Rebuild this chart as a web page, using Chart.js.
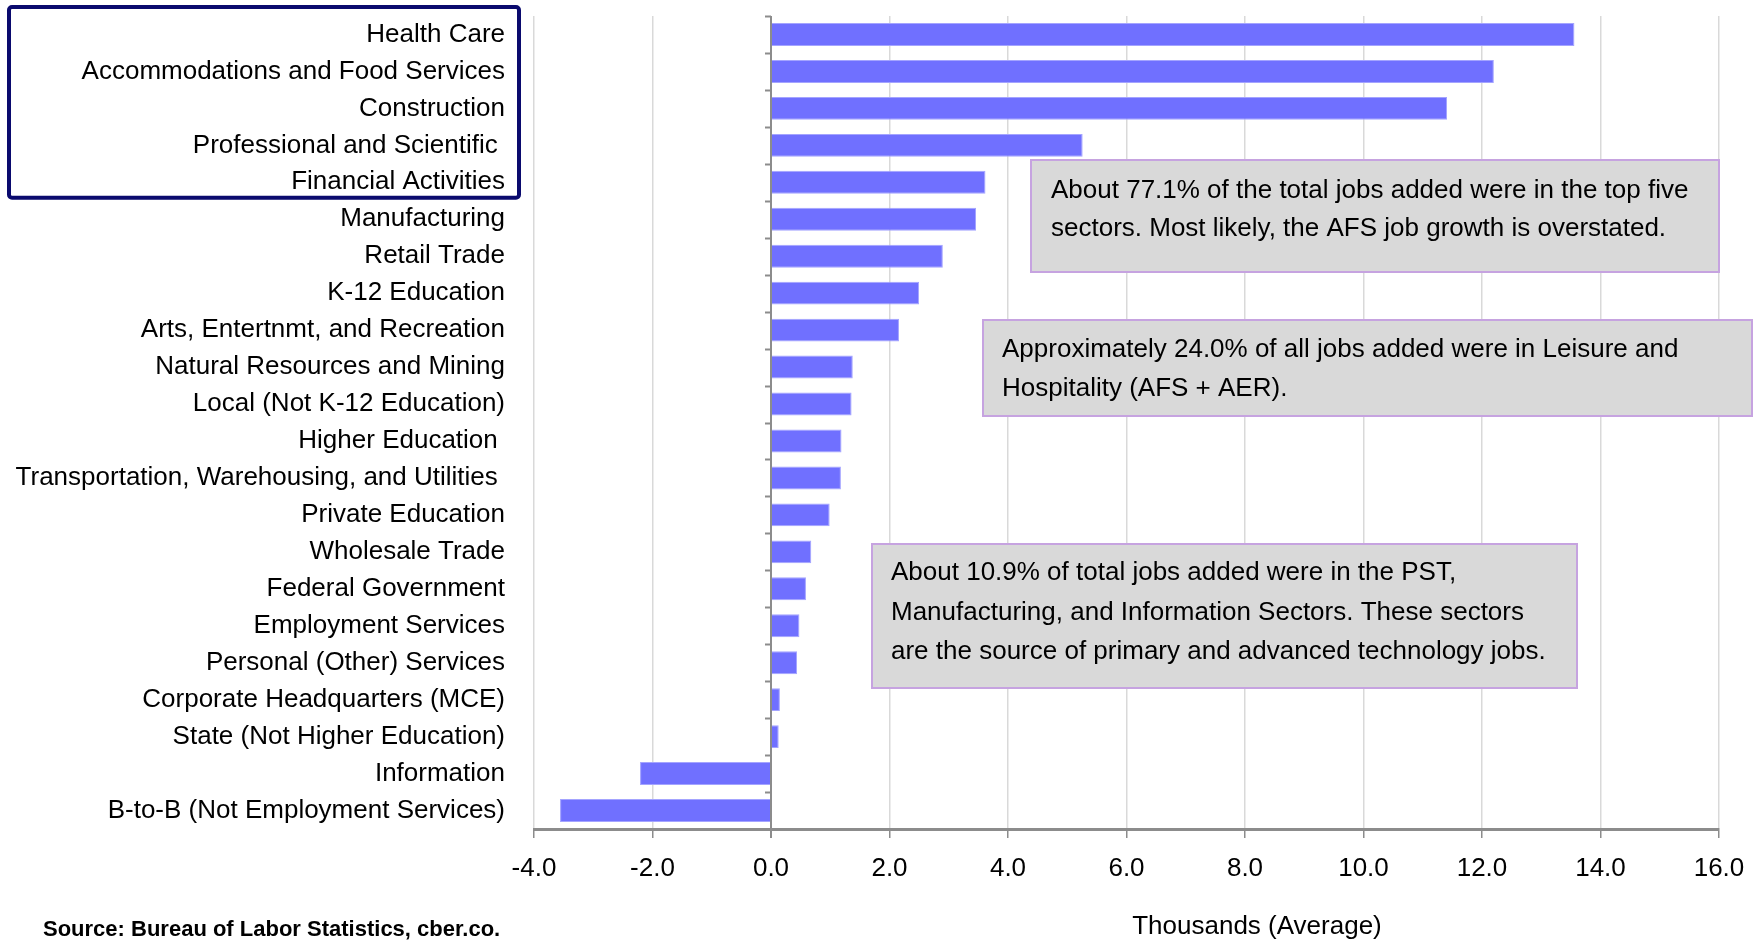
<!DOCTYPE html>
<html>
<head>
<meta charset="utf-8">
<script src="https://cdn.jsdelivr.net/npm/chart.js@4.4.1/dist/chart.umd.min.js"></script>
<style>
html,body{margin:0;padding:0;background:#fff;}
#wrap{position:relative;width:1762px;height:943px;}
</style>
</head>
<body>
<div id="wrap"><canvas id="c" width="1762" height="943"></canvas></div>
<script>
const categories = [
  "Health Care",
  "Accommodations and Food Services",
  "Construction",
  "Professional and Scientific ",
  "Financial Activities",
  "Manufacturing",
  "Retail Trade",
  "K-12 Education",
  "Arts, Entertnmt, and Recreation",
  "Natural Resources and Mining",
  "Local (Not K-12 Education)",
  "Higher Education ",
  "Transportation, Warehousing, and Utilities ",
  "Private Education",
  "Wholesale Trade",
  "Federal Government",
  "Employment Services",
  "Personal (Other) Services",
  "Corporate Headquarters (MCE)",
  "State (Not Higher Education)",
  "Information",
  "B-to-B (Not Employment Services)"
];
const jobsAdded = [13.56, 12.2, 11.41, 5.26, 3.62, 3.46, 2.9, 2.5, 2.16, 1.38, 1.36, 1.19, 1.18, 0.99, 0.68, 0.59, 0.48, 0.44, 0.15, 0.13, -2.21, -3.56];
const xTickValues = [-4, -2, 0, 2, 4, 6, 8, 10, 12, 14, 16];
const xAxisTitle = "Thousands (Average)";
const sourceNote = "Source: Bureau of Labor Statistics, cber.co.";
const notes = [
  ["About 77.1% of the total jobs added were in the top five", "sectors. Most likely, the AFS job growth is overstated."],
  ["Approximately 24.0% of all jobs added were in Leisure and", "Hospitality (AFS + AER)."],
  ["About 10.9% of total jobs added were in the PST,", "Manufacturing, and Information Sectors. These sectors", "are the source of primary and advanced technology jobs."]
];
const highlightedCount = 5;

function hasFont(name){
  const ctx = document.createElement('canvas').getContext('2d');
  ctx.font = '40px monospace';
  const a = ctx.measureText('abcdefghijKLMNOP Wm').width;
  ctx.font = "40px '" + name + "', monospace";
  const b = ctx.measureText('abcdefghijKLMNOP Wm').width;
  return a !== b;
}
const narrowOK = hasFont('Liberation Sans Narrow');
const FAM = narrowOK ? "'Liberation Sans Narrow', 'Liberation Sans', Arial, sans-serif" : "'Liberation Sans', Arial, sans-serif";
const K = narrowOK ? 1 : 0.82;
const LABEL_SIZE = Math.round(32 * K);
const NOTE_SIZE = Math.round(32 * K);
const SRC_SIZE = Math.round(27 * K);

const AREA = {left: 534, right: 1719, top: 16, bottom: 829};

const overlay = {
  id: 'overlay',
  afterDatasetsDraw(chart){
    const ctx = chart.ctx;
    const xs = chart.scales.x, ys = chart.scales.y;
    const x0 = xs.getPixelForValue(0);
    ctx.save();
    ctx.strokeStyle = '#8c8c8c';
    ctx.lineWidth = 2;
    const n = categories.length;
    const step = (ys.bottom - ys.top) / n;
    for (let k = 0; k <= n; k++){
      const y = Math.round(ys.top + k * step) + 0.5;
      ctx.beginPath();
      ctx.moveTo(x0 - 6, y);
      ctx.lineTo(x0, y);
      ctx.stroke();
    }
    const boxes = [
      {x: 1031, y: 160, w: 688, h: 112, tx: 1051, ly: [191, 229]},
      {x: 983, y: 320, w: 769, h: 96, tx: 1002, ly: [350, 389]},
      {x: 872, y: 544, w: 705, h: 144, tx: 891, ly: [573, 613, 652]}
    ];
    boxes.forEach((b, i) => {
      ctx.fillStyle = '#d9d9d9';
      ctx.fillRect(b.x, b.y, b.w, b.h);
      ctx.strokeStyle = '#c6a3e0';
      ctx.lineWidth = 2;
      ctx.strokeRect(b.x, b.y, b.w, b.h);
      ctx.fillStyle = '#000';
      ctx.font = NOTE_SIZE + 'px ' + FAM;
      ctx.textAlign = 'left';
      ctx.textBaseline = 'middle';
      notes[i].forEach((line, j) => ctx.fillText(line, b.tx, b.ly[j]));
    });
    ctx.restore();
  },
  afterDraw(chart){
    const ctx = chart.ctx;
    const ys = chart.scales.y;
    ctx.save();
    const step = (ys.bottom - ys.top) / categories.length;
    const yb = ys.top + highlightedCount * step - 3;
    ctx.strokeStyle = '#0a0a6e';
    ctx.lineWidth = 4;
    ctx.beginPath();
    if (ctx.roundRect) ctx.roundRect(9, 7, 510, yb - 7, 3); else ctx.rect(9, 7, 510, yb - 7);
    ctx.stroke();
    ctx.fillStyle = '#000';
    ctx.font = LABEL_SIZE + 'px ' + FAM;
    ctx.textAlign = 'center';
    ctx.textBaseline = 'middle';
    ctx.fillText(xAxisTitle, 1257, 927);
    ctx.font = 'bold ' + SRC_SIZE + 'px ' + FAM;
    ctx.textAlign = 'left';
    ctx.fillText(sourceNote, 43, 930);
    ctx.restore();
  }
};

new Chart(document.getElementById('c'), {
  type: 'bar',
  data: {
    labels: categories,
    datasets: [{
      data: jobsAdded,
      backgroundColor: '#7070ff',
      borderColor: '#a4a4ff',
      borderWidth: 1,
      barPercentage: 0.62,
      categoryPercentage: 1.0
    }]
  },
  options: {
    indexAxis: 'y',
    responsive: false,
    animation: false,
    devicePixelRatio: 1,
    layout: {padding: {left: 0, right: 1762 - AREA.right, top: AREA.top, bottom: 0}},
    plugins: {legend: {display: false}, tooltip: {enabled: false}},
    scales: {
      x: {
        min: -4, max: 16,
        afterBuildTicks(scale){ scale.ticks = xTickValues.map(v => ({value: v})); },
        afterFit(scale){
          scale.height = 943 - AREA.bottom;
          scale.paddingLeft = 0; scale.paddingRight = 0; scale.paddingTop = 0; scale.paddingBottom = 0;
        },
        grid: {
          color: ctx => (ctx.tick && ctx.tick.value === 0) ? '#8c8c8c' : '#d9d9d9',
          lineWidth: ctx => (ctx.tick && ctx.tick.value === 0) ? 2 : 1.5,
          tickColor: '#8c8c8c',
          tickLength: 9,
          drawTicks: true
        },
        border: {display: true, color: '#8c8c8c', width: 3},
        ticks: {
          color: '#000',
          font: {family: FAM, size: LABEL_SIZE},
          padding: 15,
          maxRotation: 0,
          callback: v => Number(v).toFixed(1)
        }
      },
      y: {
        afterFit(scale){
          scale.width = AREA.left;
          scale.paddingLeft = 0; scale.paddingRight = 0; scale.paddingTop = 0; scale.paddingBottom = 0;
        },
        grid: {display: false, drawTicks: false},
        border: {display: false},
        ticks: {
          color: '#000',
          font: {family: FAM, size: LABEL_SIZE},
          padding: 29,
          autoSkip: false
        }
      }
    }
  },
  plugins: [overlay]
});
</script>
</body>
</html>
